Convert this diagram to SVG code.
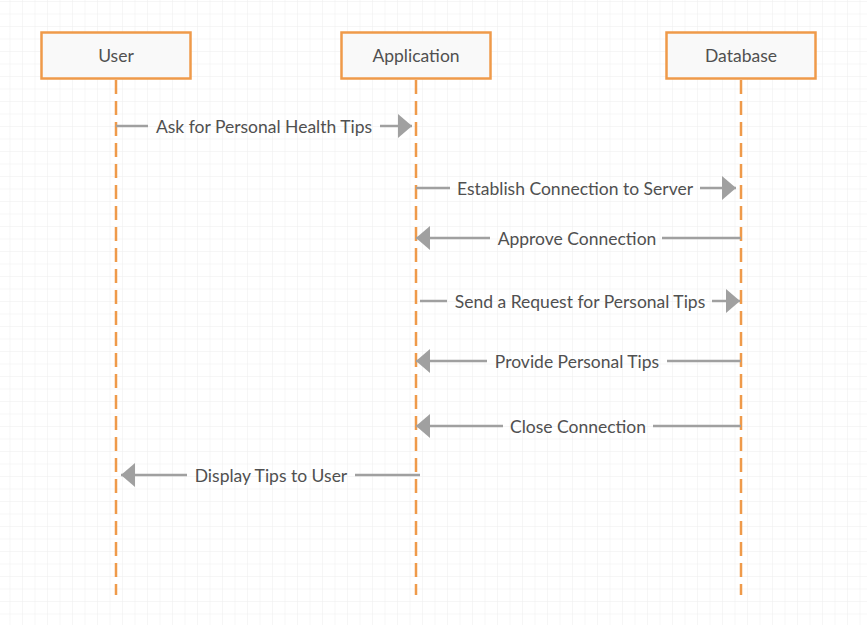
<svg xmlns="http://www.w3.org/2000/svg" width="867" height="625" viewBox="0 0 867 625">
<defs>
<pattern id="grid" x="9.5" y="1" width="12.5" height="12.5" patternUnits="userSpaceOnUse">
<path d="M0 0V12.5M0 0H12.5" fill="none" stroke="#eeeeee" stroke-width="1"/>
</pattern>
<marker id="arr" markerUnits="userSpaceOnUse" markerWidth="14" markerHeight="24" refX="14" refY="12" orient="auto" viewBox="0 0 14 24">
<path d="M0 0L14 12L0 24Z" fill="#a0a0a0"/>
</marker>
<style>
.box{fill:#f9f9f9;stroke:#ef9a4a;stroke-width:2.5}
.life{stroke:#ef9a4a;stroke-width:2.5;stroke-dasharray:14 7;fill:none}
.lbl{font-family:Lato,"Liberation Sans",sans-serif;font-size:17.5px;fill:#505050;text-anchor:middle}
.msg{stroke:#a0a0a0;stroke-width:2.5;fill:none}
</style>
</defs>
<rect width="867" height="625" fill="#ffffff"/>
<rect width="867" height="625" fill="url(#grid)"/>
<g id="user">
<line class="life" x1="116" y1="80" x2="116" y2="595"/>
<rect class="box" x="41.5" y="32.5" width="149" height="46"/>
<text class="lbl" x="116" y="61.5">User</text>
</g>
<g id="application">
<line class="life" x1="416" y1="80" x2="416" y2="595"/>
<rect class="box" x="341.5" y="32.5" width="149" height="46"/>
<text class="lbl" x="416" y="61.5">Application</text>
</g>
<g id="database">
<line class="life" x1="741" y1="80" x2="741" y2="595"/>
<rect class="box" x="666.5" y="32.5" width="149" height="46"/>
<text class="lbl" x="741" y="61.5">Database</text>
</g>
<g id="connectors">
<path class="msg" d="M116 126H148"/>
<path class="msg" d="M380 126H412" marker-end="url(#arr)"/>
<text class="lbl" x="264" y="133">Ask for Personal Health Tips</text>
<path class="msg" d="M416 188H450"/>
<path class="msg" d="M700 188H736" marker-end="url(#arr)"/>
<text class="lbl" x="575" y="195">Establish Connection to Server</text>
<path class="msg" d="M741 238H662"/>
<path class="msg" d="M490 238H416" marker-end="url(#arr)"/>
<text class="lbl" x="577" y="245">Approve Connection</text>
<path class="msg" d="M420 301H447"/>
<path class="msg" d="M712 301H740" marker-end="url(#arr)"/>
<text class="lbl" x="580" y="308">Send a Request for Personal Tips</text>
<path class="msg" d="M741 361H667"/>
<path class="msg" d="M487 361H416" marker-end="url(#arr)"/>
<text class="lbl" x="577" y="368">Provide Personal Tips</text>
<path class="msg" d="M741 426H653"/>
<path class="msg" d="M503 426H416" marker-end="url(#arr)"/>
<text class="lbl" x="578" y="433">Close Connection</text>
<path class="msg" d="M420 475H355"/>
<path class="msg" d="M187 475H121" marker-end="url(#arr)"/>
<text class="lbl" x="271" y="482">Display Tips to User</text>
</g>
</svg>
